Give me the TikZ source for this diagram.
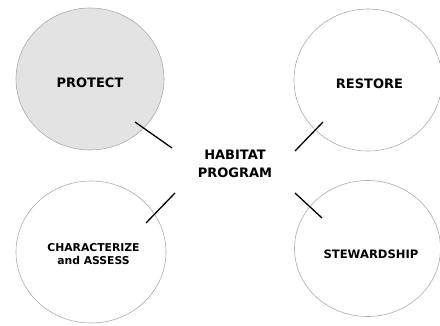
\documentclass[tikz,border=0pt]{standalone}
\usepackage{fontspec}
\setmainfont{DejaVu Sans}
\usetikzlibrary{shapes.geometric}
\begin{document}
\begin{tikzpicture}[x=1pt,y=-1pt,
  area/.style={ellipse,draw=gray!65,line width=0.6pt,minimum width=148pt,minimum height=142pt,inner sep=0pt},
  lbl/.style={font=\bfseries\fontsize{13}{17.5}\selectfont,align=center,inner sep=0pt},
  tick/.style={line width=1.3pt,black}]
\useasboundingbox (0,0) rectangle (440,325);
\node[area,fill=gray!22] (protect) at (90,79) {};
\node[area] (restore) at (368,80) {};
\node[area,minimum width=150pt] (charac) at (91,252) {};
\node[area,minimum height=136pt,minimum width=146pt] (steward) at (367.5,248.5) {};
\node[lbl] (tprotect) at (90,82.5) {PROTECT};
\node[lbl] (trestore) at (369.5,83.5) {RESTORE};
\node[lbl,font=\bfseries\fontsize{11.6}{14}\selectfont] (tsteward) at (371,254) {STEWARDSHIP};
\node[lbl,font=\bfseries\fontsize{10.8}{13.3}\selectfont] (tcharac) at (93.5,254) {CHARACTERIZE\\and ASSESS};
\node[lbl] (hab) at (235,164) {HABITAT\\PROGRAM};
\coordinate (p1) at (135,122); \coordinate (p2) at (172,148);
\coordinate (r1) at (323,122); \coordinate (r2) at (295,151);
\coordinate (c1) at (175,193); \coordinate (c2) at (146,223);
\coordinate (s1) at (295,193); \coordinate (s2) at (322,218);
\draw[tick] (p1) -- (p2);
\draw[tick] (r1) -- (r2);
\draw[tick] (c1) -- (c2);
\draw[tick] (s1) -- (s2);
\end{tikzpicture}
\end{document}
